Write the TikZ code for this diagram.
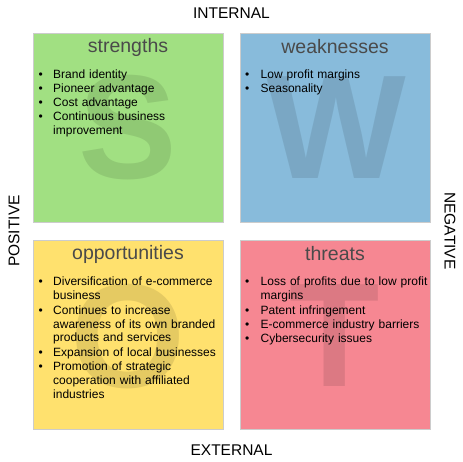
\documentclass[tikz,border=0pt]{standalone}
\usepackage{fontspec}
\setmainfont{Liberation Sans}
\definecolor{sgreen}{HTML}{A1E082}
\definecolor{wblue}{HTML}{88BBDB}
\definecolor{oyellow}{HTML}{FFE16E}
\definecolor{tred}{HTML}{F68792}
\definecolor{edgegray}{HTML}{CCCCCC}
\definecolor{titlegray}{HTML}{4A4A4A}
\begin{document}
\begin{tikzpicture}[x=1pt,y=-1pt,
  quad/.style={draw=edgegray, line width=1pt, rectangle, inner sep=0pt,
    minimum width=190pt, minimum height=189pt, anchor=north west},
  bigletter/.style={font=\fontsize{148}{148}\selectfont\bfseries, text=black, text opacity=0.1, inner sep=0pt},
  qtitle/.style={font=\fontsize{19.5}{22}\selectfont, text=titlegray, inner sep=0pt},
  itemtext/.style={font=\fontsize{12}{14}\selectfont, align=left, text width=175pt, inner sep=0pt, anchor=base west},
  dot/.style={font=\fontsize{12}{14}\selectfont, inner sep=0pt, anchor=base west},
  axis/.style={font=\fontsize{15.5}{18}\selectfont, inner sep=0pt}
]
\useasboundingbox (0,0) rectangle (463,462);

% quadrants
\node[quad, fill=sgreen] (S) at (33,33) {};
\node[quad, fill=wblue] (W) at (240,33) {};
\node[quad, fill=oyellow] (O) at (33,240) {};
\node[quad, fill=tred] (T) at (240,240) {};

% watermark letters
\node[bigletter] (SL) at (127.5,128) {S};
\node[bigletter] (WL) at (336,128) {W};
\node[bigletter] (OL) at (128,337) {O};
\node[bigletter] (TL) at (335,336) {T};

% titles
\node[qtitle] (St) at (128,47) {strengths};
\node[qtitle] (Wt) at (335,47) {weaknesses};
\node[qtitle] (Ot) at (128,254) {opportunities};
\node[qtitle] (Tt) at (335,254) {threats};

% strengths items
\node[dot] (sb1) at (38.5,78.3) {•};
\node[itemtext] (s1) at (53,78.3) {Brand identity};
\node[dot] (sb2) at (38.5,92.5) {•};
\node[itemtext] (s2) at (53,92.5) {Pioneer advantage};
\node[dot] (sb3) at (38.5,106.7) {•};
\node[itemtext] (s3) at (53,106.7) {Cost advantage};
\node[dot] (sb4) at (38.5,120.9) {•};
\node[itemtext] (s4) at (53,120.9) {Continuous business\\improvement};

% weaknesses items
\node[dot] (wb1) at (245,78.3) {•};
\node[itemtext] (w1) at (260.5,78.3) {Low profit margins};
\node[dot] (wb2) at (245,92.5) {•};
\node[itemtext] (w2) at (260.5,92.5) {Seasonality};

% opportunities items
\node[dot] (ob1) at (38.5,285.7) {•};
\node[itemtext] (o1) at (53,285.7) {Diversification of e-commerce\\business};
\node[dot] (ob2) at (38.5,314) {•};
\node[itemtext] (o2) at (53,314) {Continues to increase\\awareness of its own branded\\products and services};
\node[dot] (ob3) at (38.5,356) {•};
\node[itemtext] (o3) at (53,356) {Expansion of local businesses};
\node[dot] (ob4) at (38.5,370) {•};
\node[itemtext] (o4) at (53,370) {Promotion of strategic\\cooperation with affiliated\\industries};

% threats items
\node[dot] (tb1) at (245,285.7) {•};
\node[itemtext] (t1) at (260.5,285.7) {Loss of profits due to low profit\\margins};
\node[dot] (tb2) at (245,314) {•};
\node[itemtext] (t2) at (260.5,314) {Patent infringement};
\node[dot] (tb3) at (245,328) {•};
\node[itemtext] (t3) at (260.5,328) {E-commerce industry barriers};
\node[dot] (tb4) at (245,342) {•};
\node[itemtext] (t4) at (260.5,342) {Cybersecurity issues};

% axis labels
\node[axis] (int) at (231.5,13.5) {INTERNAL};
\node[axis] (ext) at (231.5,450) {EXTERNAL};
\node[axis, rotate=90] (pos) at (14,231) {POSITIVE};
\node[axis, rotate=-90] (neg) at (450,231) {NEGATIVE};
\end{tikzpicture}
\end{document}
